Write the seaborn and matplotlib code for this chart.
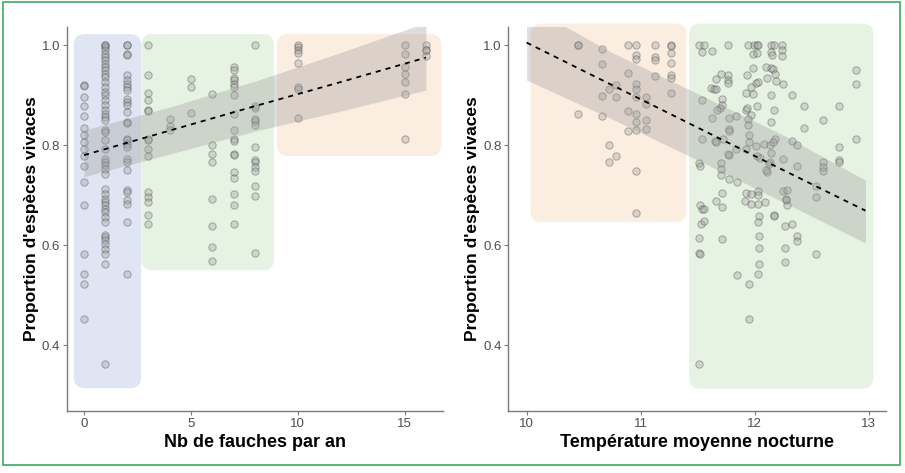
import numpy as np
import pandas as pd
import matplotlib
matplotlib.use("Agg")
import matplotlib.pyplot as plt
import seaborn as sns
from matplotlib.patches import FancyBboxPatch, Rectangle

# ---------------- data ----------------
fauches_levels = [0, 1, 2, 3, 4, 5, 6, 7, 8, 10, 15, 16]
vivaces_f0 = [0.920, 0.919, 0.897, 0.878, 0.858, 0.835, 0.820, 0.807, 0.793, 0.778,
              0.758, 0.727, 0.681, 0.583, 0.542, 0.522, 0.453]
vivaces_f1 = [1.0, 1.0, 0.997, 0.990, 0.983, 0.977, 0.970, 0.963, 0.957, 0.950, 0.943,
              0.937, 0.927, 0.917, 0.907, 0.900, 0.890, 0.880, 0.870, 0.863, 0.857, 0.850,
              0.830, 0.827, 0.810, 0.793, 0.773, 0.767, 0.760, 0.753, 0.743, 0.713, 0.703,
              0.693, 0.687, 0.680, 0.673, 0.667, 0.657, 0.647, 0.620, 0.617, 0.610, 0.603,
              0.593, 0.583, 0.563, 0.363]
vivaces_f2 = [1.0, 1.0, 0.983, 0.980, 0.940, 0.930, 0.923, 0.917, 0.910, 0.893, 0.887,
              0.880, 0.867, 0.847, 0.845, 0.813, 0.810, 0.803, 0.797, 0.773, 0.767, 0.750,
              0.710, 0.707, 0.690, 0.683, 0.647, 0.543]
vivaces_f3 = [1.0, 0.940, 0.905, 0.891, 0.870, 0.869, 0.813, 0.810, 0.793, 0.778, 0.707,
              0.697, 0.687, 0.660, 0.643]
vivaces_f4 = [0.853, 0.838, 0.830]
vivaces_f5 = [0.933, 0.917, 0.865]
vivaces_f6 = [0.902, 0.800, 0.783, 0.767, 0.692, 0.638, 0.597, 0.568]
vivaces_f7 = [0.957, 0.951, 0.935, 0.931, 0.923, 0.917, 0.900, 0.862, 0.830, 0.813, 0.809,
              0.783, 0.781, 0.747, 0.735, 0.703, 0.681, 0.642]
vivaces_f8 = [1.0, 0.879, 0.875, 0.852, 0.849, 0.841, 0.797, 0.770, 0.767, 0.757, 0.748,
              0.719, 0.698, 0.585]
vivaces_f10 = [1.0, 0.997, 0.990, 0.985, 0.965, 0.917, 0.913, 0.855]
vivaces_f15 = [1.0, 0.982, 0.957, 0.943, 0.927, 0.902, 0.812]
vivaces_f16 = [1.0, 0.991, 0.990, 0.978]
vivaces_par_fauche = [vivaces_f0, vivaces_f1, vivaces_f2, vivaces_f3, vivaces_f4, vivaces_f5,
                      vivaces_f6, vivaces_f7, vivaces_f8, vivaces_f10, vivaces_f15, vivaces_f16]

temp_x = [10.447, 10.447, 10.447, 10.663, 10.663, 10.663, 10.663, 10.725, 10.725, 10.725,
          10.783, 10.783, 10.783, 10.891, 10.891, 10.891, 10.891,
          10.958, 10.958, 10.958, 10.958, 10.958, 10.958, 10.958, 10.958, 10.958, 10.958, 10.958,
          11.043, 11.043, 11.043, 11.043, 11.125, 11.125, 11.125, 11.125,
          11.262, 11.262, 11.262, 11.262, 11.262, 11.262, 11.262,
          11.510, 11.554, 11.534, 11.621, 11.767, 11.937, 11.995, 12.022, 12.030, 12.141,
          12.168, 12.235, 12.235, 12.235, 12.138, 12.153, 11.987, 12.016,
          11.703, 11.767, 11.767, 11.767, 11.659, 11.616, 11.645, 11.659, 11.928, 12.010,
          12.030, 11.987, 12.098, 12.138, 12.162, 12.176, 12.103, 12.182, 12.250, 12.328,
          11.922, 11.963, 11.987, 12.138,
          11.534, 11.709, 11.709, 11.694, 11.665, 11.621, 11.776, 11.835, 11.922, 11.934,
          11.963, 11.943, 11.943, 12.016, 12.168, 12.138, 12.434, 12.434, 12.600, 12.737,
          12.883, 12.883, 12.883,
          11.534, 11.651, 11.659, 11.718, 11.770, 11.770, 11.770, 11.762, 11.835, 11.951,
          11.951, 11.922, 12.007, 12.022, 12.045, 12.080, 12.133, 12.138, 12.179, 12.162,
          12.328, 12.366, 12.250, 12.133, 12.103, 12.095, 12.124, 12.366, 12.600, 12.600,
          12.600, 12.737, 12.737, 12.737, 12.533, 12.533,
          11.510, 11.519, 11.700, 11.700, 11.706, 11.770, 11.840, 11.709, 11.659, 11.709,
          11.919, 11.966, 12.025, 12.030, 11.916, 11.963, 12.025, 12.089, 12.168, 12.168,
          12.250, 12.279, 12.270, 12.273, 12.279,
          11.519, 11.534, 11.554, 11.528, 11.554, 11.510, 11.709, 11.510, 11.519, 12.039,
          12.025, 12.039, 12.039, 12.039, 12.025, 12.267, 12.328, 12.366, 12.366, 12.267,
          12.267, 12.533, 11.840, 11.951, 11.951, 11.510]
temp_y = [1.0, 1.0, 0.863, 0.993, 0.963, 0.898, 0.859, 0.801, 0.767, 0.913,
          0.920, 0.897, 0.778, 1.0, 0.945, 0.868, 0.828,
          1.0, 0.980, 0.973, 0.923, 0.913, 0.897, 0.862, 0.847, 0.830, 0.748, 0.665,
          0.897, 0.883, 0.851, 0.832, 1.0, 0.977, 0.970, 0.939,
          1.0, 0.998, 0.985, 0.965, 0.941, 0.935, 0.905,
          1.0, 1.0, 0.987, 0.989, 1.0, 1.0, 1.0, 1.0, 1.0, 1.0,
          1.0, 1.0, 0.991, 0.978, 0.987, 0.980, 0.982, 0.985,
          0.942, 0.940, 0.931, 0.925, 0.933, 0.915, 0.912, 0.913, 0.940, 0.925,
          0.927, 0.955, 0.957, 0.955, 0.952, 0.943, 0.935, 0.928, 0.923, 0.900,
          0.905, 0.917, 0.903, 0.900,
          0.890, 0.892, 0.880, 0.875, 0.870, 0.855, 0.855, 0.858, 0.871, 0.875,
          0.861, 0.853, 0.841, 0.879, 0.870, 0.847, 0.879, 0.835, 0.851, 0.879,
          0.951, 0.922, 0.812,
          0.813, 0.809, 0.807, 0.812, 0.833, 0.828, 0.781, 0.783, 0.793, 0.820,
          0.807, 0.793, 0.798, 0.778, 0.775, 0.802, 0.800, 0.785, 0.812, 0.807,
          0.808, 0.801, 0.773, 0.767, 0.747, 0.750, 0.763, 0.759, 0.767, 0.757,
          0.748, 0.770, 0.767, 0.797, 0.719, 0.697,
          0.765, 0.758, 0.765, 0.752, 0.741, 0.733, 0.727, 0.705, 0.688, 0.677,
          0.705, 0.703, 0.709, 0.700, 0.688, 0.683, 0.683, 0.687, 0.661, 0.659,
          0.709, 0.710, 0.693, 0.690, 0.681,
          0.681, 0.672, 0.672, 0.643, 0.648, 0.615, 0.613, 0.585, 0.582, 0.658,
          0.647, 0.619, 0.595, 0.562, 0.543, 0.639, 0.642, 0.618, 0.608, 0.595,
          0.567, 0.583, 0.541, 0.522, 0.453, 0.362]

# model predictions (fitted line and confidence band)
fit_fauches_x = [0, 4, 8, 12, 16]
fit_fauches_y = [0.780, 0.829, 0.878, 0.926, 0.975]
fit_fauches_hi = [0.830, 0.876, 0.928, 0.985, 1.045]
fit_fauches_lo = [0.737, 0.782, 0.828, 0.868, 0.910]

fit_temp_x = [10.0, 10.75, 11.5, 12.25, 12.97]
fit_temp_y = [1.005, 0.920, 0.835, 0.750, 0.669]
fit_temp_hi = [1.080, 0.985, 0.903, 0.820, 0.730]
fit_temp_lo = [0.930, 0.852, 0.770, 0.686, 0.604]

left_xticks = [0, 5, 10, 15]
right_xticks = [10, 11, 12, 13]
yticks = [0.4, 0.6, 0.8, 1.0]
xlabel_left = "Nb de fauches par an"
xlabel_right = "Température moyenne nocturne"
ylabel = "Proportion d'espèces vivaces"

# regions (x0, x1, y0, y1, colour)
regions_left = [(-0.48, 2.67, 0.314, 1.022, "#e0e5f3"),
                (2.68, 8.89, 0.550, 1.022, "#e7f3e2"),
                (9.03, 16.72, 0.778, 1.022, "#fcede1")]
regions_right = [(10.035, 11.40, 0.646, 1.043, "#fcede1"),
                 (11.425, 13.04, 0.313, 1.043, "#e7f3e2")]

df_f = pd.DataFrame({"fauches": np.concatenate([[lv] * len(v) for lv, v in zip(fauches_levels, vivaces_par_fauche)]),
                     "vivaces": np.concatenate(vivaces_par_fauche)})
df_t = pd.DataFrame({"temp": temp_x, "vivaces": temp_y})

# ---------------- figure ----------------
sns.set_theme(style="ticks")
plt.rcParams["font.family"] = ["Liberation Sans", "DejaVu Sans"]

fig = plt.figure(figsize=(9.05, 4.73), dpi=100)
ax1 = fig.add_axes([0.074, 0.1317, 0.4155, 0.811])
ax2 = fig.add_axes([0.5617, 0.1317, 0.4173, 0.811])

ylim = (0.269, 1.036)
FIG_W, FIG_H = 905, 473


def draw_regions(ax, regions, xlim, radius_px=11):
    pos = ax.get_position()
    px_x = pos.width * FIG_W / (xlim[1] - xlim[0])
    px_y = pos.height * FIG_H / (ylim[1] - ylim[0])
    for x0, x1, y0, y1, col in regions:
        p = FancyBboxPatch((x0, y0), x1 - x0, y1 - y0,
                           boxstyle=f"round,pad=0,rounding_size={radius_px / px_x}",
                           mutation_aspect=px_x / px_y,
                           facecolor=col, edgecolor="none", zorder=0, clip_on=False)
        ax.add_patch(p)


pt_kws = dict(s=28, facecolor="#a0a0a0", edgecolor="#333333", alpha=0.36, linewidth=0.7, zorder=2)
line_kws = dict(color="black", lw=1.3, ls=(0, (2.8, 2.8)), zorder=4)


def draw_fit(ax, fx, fy, lo, hi):
    ax.fill_between(fx, lo, hi, color="#9a9a9a", alpha=0.33, linewidth=0, zorder=3)
    sns.lineplot(x=fx, y=fy, ax=ax, **line_kws)


# left panel
xlim1 = (-0.8, 16.8)
draw_regions(ax1, regions_left, xlim1)
sns.scatterplot(data=df_f, x="fauches", y="vivaces", ax=ax1, **pt_kws)
draw_fit(ax1, fit_fauches_x, fit_fauches_y, fit_fauches_lo, fit_fauches_hi)
ax1.set_xlim(xlim1)
ax1.set_ylim(ylim)
ax1.set_xticks(left_xticks)

# right panel
xlim2 = (9.84, 13.15)
draw_regions(ax2, regions_right, xlim2)
sns.scatterplot(data=df_t, x="temp", y="vivaces", ax=ax2, **pt_kws)
draw_fit(ax2, fit_temp_x, fit_temp_y, fit_temp_lo, fit_temp_hi)
ax2.set_xlim(xlim2)
ax2.set_ylim(ylim)
ax2.set_xticks(right_xticks)

for ax, xl in ((ax1, xlabel_left), (ax2, xlabel_right)):
    ax.set_yticks(yticks)
    ax.set_yticklabels([f"{v:.1f}" for v in yticks])
    ax.set_xlabel(xl, fontsize=13, fontweight="bold", color="black", labelpad=3)
    ax.set_ylabel(ylabel, fontsize=12.5, fontweight="bold", color="black", labelpad=2)
    for s in ("top", "right"):
        ax.spines[s].set_visible(False)
    for s in ("left", "bottom"):
        ax.spines[s].set_color("#7a7a7a")
        ax.spines[s].set_linewidth(1.0)
    ax.tick_params(length=3, width=0.8, color="#7a7a7a", labelcolor="#4d4d4d",
                   labelsize=9.5, pad=2)
    ax.set_facecolor("none")
    ax.patch.set_alpha(0)

# green frame around the figure
fig.patches.append(Rectangle((3 / FIG_W, 1 - 465 / FIG_H), 897 / FIG_W, 463 / FIG_H,
                             transform=fig.transFigure, fill=False, edgecolor="#3cab5c",
                             lw=1.2, zorder=10))

fig.savefig("out.png", dpi=100)
